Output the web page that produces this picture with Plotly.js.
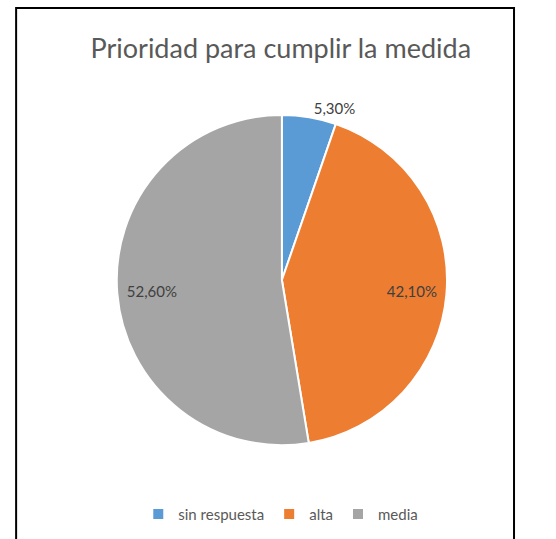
<!DOCTYPE html>
<html>
<head>
<meta charset="utf-8">
<script src="https://cdn.plot.ly/plotly-3.0.1.min.js"></script>
<style>html,body{margin:0;padding:0;background:#fff;}#chart{width:556px;height:539px;}</style>
</head>
<body>
<div id="chart"></div>
<script>
const categories = ["sin respuesta", "alta", "media"];
const values = [5.3, 42.1, 52.6];
const valueLabels = ["5,30%", "42,10%", "52,60%"];
const colors = ["#5B9BD5", "#ED7D31", "#A5A5A5"];
const outsideLabelFlags = [true, false, false];

const FONT = "Lato, 'Open Sans', sans-serif";
const pieDomain = {x: [0.210, 0.804], y: [0.174, 0.787]};

// Main pie: slices + outside label for small slice
const mainTrace = {
  type: "pie",
  labels: categories,
  values: values,
  text: valueLabels.map((t, i) => outsideLabelFlags[i] ? t : ""),
  textinfo: "text",
  textposition: "outside",
  sort: false,
  direction: "clockwise",
  rotation: 0,
  marker: {colors: colors, line: {color: "#ffffff", width: 2}},
  outsidetextfont: {family: FONT, size: 15, color: "#404040"},
  domain: pieDomain,
  hoverinfo: "none"
};

// Transparent ring overlay to place inside labels further out (like Excel best fit)
const labelTrace = {
  type: "pie",
  labels: categories,
  values: values,
  text: valueLabels.map((t, i) => outsideLabelFlags[i] ? "" : t),
  textinfo: "text",
  textposition: "inside",
  insidetextorientation: "horizontal",
  hole: 0.58,
  sort: false,
  direction: "clockwise",
  rotation: 0,
  marker: {colors: ["rgba(0,0,0,0)", "rgba(0,0,0,0)", "rgba(0,0,0,0)"], line: {width: 0}},
  insidetextfont: {family: FONT, size: 15, color: "#404040"},
  domain: pieDomain,
  showlegend: false,
  hoverinfo: "none"
};

const layout = {
  width: 556, height: 539,
  margin: {l: 0, r: 0, t: 0, b: 0},
  paper_bgcolor: "#ffffff",
  title: {text: "Prioridad para cumplir la medida", x: 0.505, xanchor: "center", y: 0.91, yanchor: "middle",
          font: {family: FONT, size: 27, color: "#595959"}},
  showlegend: true,
  legend: {orientation: "h", x: 0.505, xanchor: "center", y: 0.046, yanchor: "middle",
           font: {family: FONT, size: 15, color: "#595959"},
           itemwidth: 30, traceorder: "normal"},
  shapes: [{type: "rect", xref: "paper", yref: "paper", x0: 0.029, x1: 0.9245, y0: -0.05, y1: 0.985,
            line: {color: "#000000", width: 2}}]
};

Plotly.newPlot("chart", [mainTrace, labelTrace], layout, {staticPlot: true});
</script>
</body>
</html>
